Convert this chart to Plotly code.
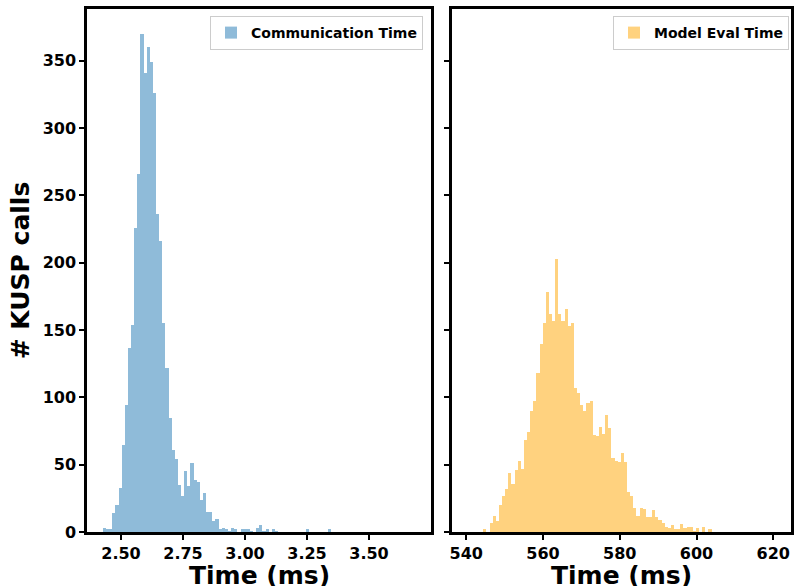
import numpy as np
import plotly.graph_objects as go

# ---- data: 100-bin histograms ----
comm_min = 2.427          # ms, lower edge of first bin
comm_bin = 0.01261        # ms, bin width
comm_counts = [
    3, 2, 2, 14, 20, 33, 65, 94, 137, 154,
    226, 266, 370, 341, 360, 349, 326, 236, 216, 155,
    122, 85, 61, 54, 35, 27, 45, 34, 51, 39,
    37, 24, 29, 15, 15, 8, 10, 2, 3, 2,
    1, 3, 2, 0, 2, 2, 2, 1, 0, 3,
    5, 1, 2, 0, 2, 1, 0, 0, 0, 0,
    0, 0, 0, 0, 0, 2, 0, 0, 0, 0,
    0, 0, 2, 0, 0, 0, 0, 0, 0, 0,
    0, 0, 0, 0, 0, 0, 0, 0, 0, 0,
    0, 0, 0, 0, 0, 0, 0, 0, 0, 0,
]

eval_min = 540.34         # ms
eval_bin = 0.8149         # ms
eval_counts = [
    0, 0, 0, 0, 0, 2, 0, 7, 12, 8,
    20, 27, 32, 44, 36, 46, 53, 47, 68, 74,
    90, 97, 118, 140, 155, 178, 162, 157, 203, 162,
    157, 166, 153, 155, 107, 103, 94, 90, 96, 97,
    72, 71, 78, 73, 87, 77, 55, 53, 52, 59,
    52, 30, 27, 18, 12, 18, 17, 11, 11, 16,
    11, 9, 7, 4, 3, 5, 2, 2, 6, 3,
    4, 4, 1, 3, 0, 4, 0, 2, 0, 0,
    0, 0, 0, 0, 0, 0, 0, 0, 0, 0,
    0, 0, 0, 0, 0, 0, 0, 0, 0, 0,
]

comm_tickvals = [2.50, 2.75, 3.00, 3.25, 3.50]
comm_ticktext = ["2.50", "2.75", "3.00", "3.25", "3.50"]
eval_tickvals = [540, 560, 580, 600, 620]
eval_ticktext = ["540", "560", "580", "600", "620"]
y_tickvals = [0, 50, 100, 150, 200, 250, 300, 350]
y_max = 388.5

series_names = ["Communication Time", "Model Eval Time"]
x_title = "Time (ms)"
y_title = "# KUSP calls"

# ---- derived bin centres ----
comm_x = comm_min + (np.arange(len(comm_counts)) + 0.5) * comm_bin
eval_x = eval_min + (np.arange(len(eval_counts)) + 0.5) * eval_bin

FONT = "DejaVu Sans"
W, H = 794, 586

fig = go.Figure()
fig.add_trace(go.Bar(
    x=comm_x, y=comm_counts, width=comm_bin, name=series_names[0],
    marker=dict(color="rgba(31,119,180,0.5)", line=dict(width=0)),
    xaxis="x", yaxis="y", legend="legend", showlegend=True,
))
fig.add_trace(go.Bar(
    x=eval_x, y=eval_counts, width=eval_bin, name=series_names[1],
    marker=dict(color="rgba(255,165,0,0.5)", line=dict(width=0)),
    xaxis="x2", yaxis="y2", legend="legend2", showlegend=True,
))

def px_x(p):
    return p / W

def px_y(p):
    return 1 - p / H

tickfont = dict(family=FONT, size=16, color="black", weight="bold")
titlefont = dict(family=FONT, size=25, color="black", weight="bold")
legfont = dict(family=FONT, size=14, color="black", weight="bold")
common_axis = dict(
    showline=True, linecolor="black", linewidth=2.5, mirror=True,
    ticks="outside", ticklen=5, tickwidth=1.5, tickcolor="black",
    showgrid=False, zeroline=False, tickfont=tickfont, automargin=False,
)

x1_dom = [px_x(87), px_x(431)]
x2_dom = [px_x(452), px_x(791)]

fig.update_layout(
    width=W, height=H,
    margin=dict(l=0, r=0, t=0, b=0),
    paper_bgcolor="white", plot_bgcolor="white",
    bargap=0, barmode="overlay", showlegend=True,
    xaxis=dict(
        domain=x1_dom, anchor="y",
        range=[2.3629, 3.75],
        tickvals=comm_tickvals, ticktext=comm_ticktext,
        **common_axis,
    ),
    yaxis=dict(
        domain=[px_y(532), px_y(9)], anchor="x",
        range=[0, y_max], tickvals=y_tickvals,
        title=dict(text=y_title, font=titlefont, standoff=6),
        **common_axis,
    ),
    xaxis2=dict(
        domain=x2_dom, anchor="y2",
        range=[536.27, 536.27 + 339 / 3.8375],
        tickvals=eval_tickvals, ticktext=eval_ticktext,
        **common_axis,
    ),
    yaxis2=dict(
        domain=[px_y(532), px_y(9)], anchor="x2",
        range=[0, y_max], tickvals=y_tickvals, showticklabels=False,
        **common_axis,
    ),
    legend=dict(
        x=px_x(423), xanchor="right", y=px_y(16), yanchor="top",
        bgcolor="rgba(255,255,255,0.8)", bordercolor="#cccccc", borderwidth=1,
        font=legfont, visible=True,
    ),
    legend2=dict(
        x=px_x(789), xanchor="right", y=px_y(16), yanchor="top",
        bgcolor="rgba(255,255,255,0.8)", bordercolor="#cccccc", borderwidth=1,
        font=legfont, visible=True,
    ),
)

# x-axis titles (placed like the reference, partly below the page edge)
for dom in (x1_dom, x2_dom):
    fig.add_annotation(
        text=x_title, xref="paper", yref="paper",
        x=(dom[0] + dom[1]) / 2, y=px_y(575),
        xanchor="center", yanchor="middle", showarrow=False,
        font=titlefont,
    )

fig.write_html(
    "out.html",
    config={"displayModeBar": False},
    post_script="document.body.style.margin='0px';",
)
